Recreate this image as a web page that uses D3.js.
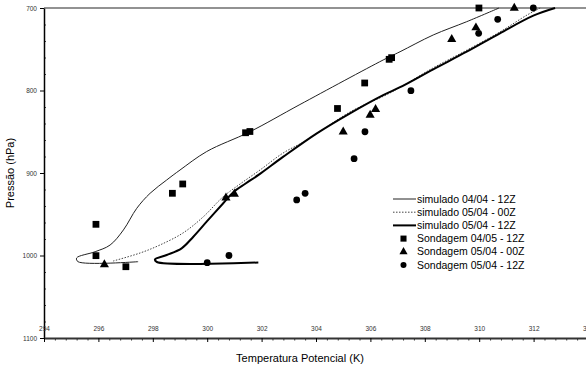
<!DOCTYPE html>
<html>
<head>
<meta charset="utf-8">
<script src="https://cdn.jsdelivr.net/npm/d3@7"></script>
<style>
  body { margin: 0; background: #fff; }
  svg { display: block; font-family: "Liberation Sans", Arial, sans-serif; }
</style>
</head>
<body>
<div id="chart"></div>
<script>
// simulated profiles: [theta (K), pressure (hPa)]
const sim0404_12 = [
  [310.73, 700], [309.54, 716.6], [308.31, 732.7], [307.09, 753], [306.47, 763],
  [303.41, 817], [301.57, 850], [299.98, 874], [299.0, 896.4], [298.51, 908.5],
  [297.9, 924.6], [297.41, 942.8], [296.92, 969], [296.43, 987.3], [295.88, 995.4],
  [295.2, 1003], [295.25, 1007.5], [297.46, 1007.5]
];
const sim0504_00 = [
  [312.24, 700], [311.76, 708.5], [310.76, 729], [309.55, 751], [308.3, 772.7],
  [306.72, 803], [305.25, 826], [303.67, 860], [302.79, 875.8], [301.94, 896.4],
  [301.21, 913.3], [300.58, 929], [299.85, 953.3], [299.11, 972.7], [298.26, 987.3],
  [297.53, 997], [296.54, 1006.7]
];
const sim0504_12 = [
  [312.79, 700], [311.99, 709.3], [310.76, 730.7], [309.54, 753], [308.31, 774.3],
  [307.09, 796], [306.47, 805.5], [305.25, 827.6], [304.03, 851.9], [302.8, 880.2],
  [301.9, 902], [301.4, 913], [300.95, 923.5], [300.59, 936.7], [299.98, 959],
  [299.49, 977.2], [299.06, 991.3], [298.51, 999.4], [298.08, 1004.8],
  [298.15, 1007.9], [301.88, 1008.5]
];

// soundings
const sond0405_12 = [
  [295.91, 962.2], [295.91, 1000.2], [297.01, 1013.6], [298.72, 924.6], [299.1, 913.3],
  [301.41, 851.2], [301.57, 849.7], [304.79, 821.8], [305.79, 790.9], [306.69, 762.2],
  [306.78, 760.2], [309.99, 700]
];
const sond0504_00 = [
  [296.22, 1011], [300.69, 930], [301.0, 925.5], [305.0, 850], [305.99, 829.7],
  [306.19, 822.8], [308.99, 738], [309.88, 723.9], [311.29, 700]
];
const sond0504_12 = [
  [300.0, 1008.7], [300.8, 1000], [303.29, 932.7], [303.6, 924.6], [305.4, 882.7],
  [305.8, 850], [307.49, 800.2], [309.98, 730.7], [310.68, 713.7], [311.99, 700]
];

const xTicks = [294, 296, 298, 300, 302, 304, 306, 308, 310, 312, 314];
const yTicks = [700, 800, 900, 1000, 1100];

const width = 586, height = 372;
const svg = d3.select('#chart').append('svg')
  .attr('width', width)
  .attr('height', height);

const x = d3.scaleLinear().domain([294, 314]).range([44, 588]);
const y = d3.scaleLinear().domain([700, 1100]).range([8, 338]);

// top border
svg.append('line')
  .attr('x1', x(294)).attr('x2', width)
  .attr('y1', y(700)).attr('y2', y(700))
  .attr('stroke', '#6e6e6e').attr('stroke-width', 1.5);

// y axis
const yMinor = d3.range(700, 1100, 20).filter(v => v % 100 !== 0);
svg.append('g')
  .attr('transform', `translate(${x(294)},0)`)
  .call(d3.axisRight(y).tickValues(yMinor).tickSize(2).tickFormat(''))
  .call(g => g.select('.domain').remove())
  .call(g => g.selectAll('line').attr('stroke', '#444'));
svg.append('g')
  .attr('transform', `translate(${x(294)},0)`)
  .call(d3.axisLeft(y).tickValues(yTicks).tickSize(4).tickSizeOuter(0).tickPadding(3).tickFormat(d3.format('d')))
  .call(g => g.select('.domain').attr('stroke-width', 1.5))
  .call(g => g.selectAll('text').attr('font-size', 6.5).attr('fill', '#333').attr('font-family', 'Liberation Sans, Arial, sans-serif'));

// x axis
const xMinor = d3.range(294, 314.01, 0.4).map(v => +v.toFixed(1)).filter(v => !xTicks.includes(v));
svg.append('g')
  .attr('transform', `translate(0,${y(1100)})`)
  .call(d3.axisBottom(x).tickValues(xMinor).tickSize(2.5).tickFormat(''))
  .call(g => g.select('.domain').remove())
  .call(g => g.selectAll('line').attr('stroke', '#333'));
svg.append('g')
  .attr('transform', `translate(0,${y(1100)})`)
  .call(d3.axisBottom(x).tickValues(xTicks).tickSize(4).tickSizeOuter(0).tickFormat(d3.format('d')))
  .call(g => g.select('.domain').attr('stroke', '#333').attr('stroke-width', 2))
  .call(g => g.selectAll('text')
    .attr('y', -9).attr('dy', '0.32em')
    .attr('font-size', 6.5).attr('fill', '#333')
    .attr('font-family', 'Liberation Sans, Arial, sans-serif'));

// axis titles
svg.append('text')
  .attr('x', 300).attr('y', 362)
  .attr('text-anchor', 'middle')
  .attr('font-size', 11)
  .text('Temperatura Potencial (K)');
svg.append('text')
  .attr('transform', `translate(14,${(y(700) + y(1100)) / 2}) rotate(-90)`)
  .attr('text-anchor', 'middle')
  .attr('font-size', 11)
  .text('Pressão (hPa)');

// profiles
const line = d3.line()
  .x(d => x(d[0]))
  .y(d => y(d[1]))
  .curve(d3.curveCatmullRom.alpha(0.5));

const lineStyles = [
  { data: sim0404_12, width: 1, dash: null, color: '#222', label: 'simulado 04/04 - 12Z' },
  { data: sim0504_00, width: 1, dash: '1.5,1.5', color: '#444', label: 'simulado 05/04 - 00Z' },
  { data: sim0504_12, width: 2, dash: null, color: '#000', label: 'simulado 05/04 - 12Z' }
];

lineStyles.forEach(s => {
  svg.append('path')
    .datum(s.data)
    .attr('d', line)
    .attr('fill', 'none')
    .attr('stroke', s.color)
    .attr('stroke-width', s.width)
    .attr('stroke-dasharray', s.dash);
});

// markers
const markerStyles = [
  { data: sond0405_12, type: d3.symbolSquare, size: 46, label: 'Sondagem 04/05 - 12Z' },
  { data: sond0504_00, type: d3.symbolTriangle, size: 36, label: 'Sondagem 05/04 - 00Z' },
  { data: sond0504_12, type: d3.symbolCircle, size: 36, label: 'Sondagem 05/04 - 12Z' }
];

markerStyles.forEach(s => {
  svg.append('g').selectAll('path')
    .data(s.data)
    .enter().append('path')
    .attr('transform', d => `translate(${x(d[0])},${y(d[1])})`)
    .attr('d', d3.symbol().type(s.type).size(s.size))
    .attr('fill', '#000');
});

// legend
const legend = svg.append('g').attr('font-size', 10.5);
const rowY = i => 199 + i * 13.2;

lineStyles.forEach((s, i) => {
  legend.append('line')
    .attr('x1', 393).attr('x2', 416)
    .attr('y1', rowY(i)).attr('y2', rowY(i))
    .attr('stroke', s.color)
    .attr('stroke-width', s.width)
    .attr('stroke-dasharray', s.dash);
  legend.append('text')
    .attr('x', 417).attr('y', rowY(i)).attr('dy', '0.35em')
    .text(s.label);
});

markerStyles.forEach((s, j) => {
  const i = j + 3;
  legend.append('path')
    .attr('transform', `translate(403.5,${rowY(i)})`)
    .attr('d', d3.symbol().type(s.type).size(s.size * 0.8))
    .attr('fill', '#000');
  legend.append('text')
    .attr('x', 417).attr('y', rowY(i)).attr('dy', '0.35em')
    .text(s.label);
});
</script>
</body>
</html>
